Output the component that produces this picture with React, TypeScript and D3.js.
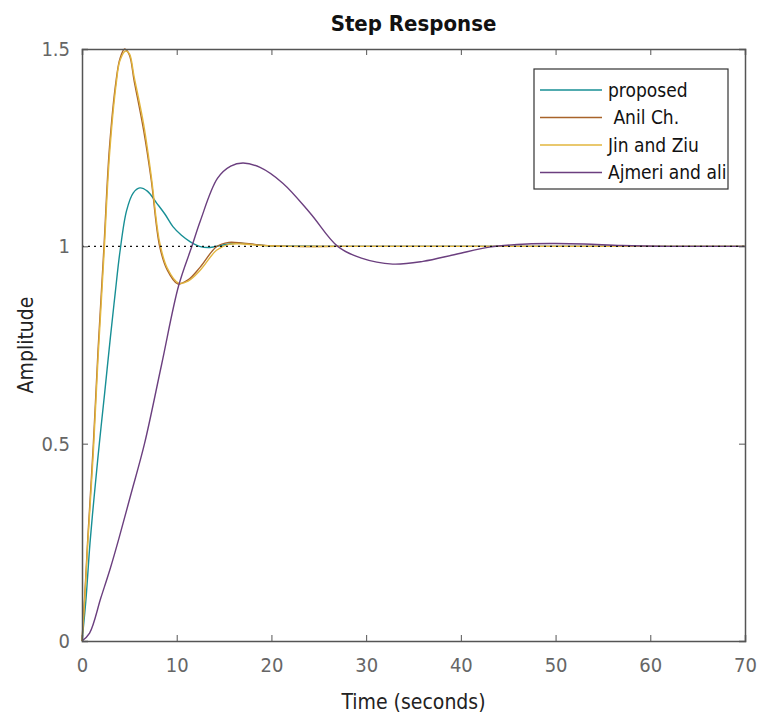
import React, { useEffect, useRef } from "react";
import * as d3 from "d3";

// step response samples
const proposedT = [0, 0.4, 0.85, 1.3, 1.83, 2.4, 3.0, 3.5, 4.0, 4.7, 5.4, 6.1, 6.9, 7.9, 8.8, 9.6, 10.5, 11.4, 12.4, 13.5, 15, 16.5, 18, 20, 25, 30, 40, 50, 60, 70];
const proposedV = [0, 0.1, 0.25, 0.37, 0.5, 0.63, 0.77, 0.88, 0.985, 1.09, 1.135, 1.148, 1.14, 1.109, 1.08, 1.05, 1.028, 1.012, 1.0, 0.997, 1.004, 1.008, 1.005, 1.001, 1.0, 1.0, 1.0, 1.0, 1.0, 1.0];

const anilT = [0, 0.3, 0.6, 1.2, 1.7, 2.3, 2.9, 3.6, 4.0, 4.5, 5.0, 5.5, 6.5, 7.3, 8.2, 9.0, 10.1, 11.2, 12.5, 14.2, 15.5, 17, 19, 22, 30, 40, 50, 60, 70];
const anilV = [0, 0.12, 0.255, 0.5, 0.74, 0.99, 1.25, 1.42, 1.475, 1.5, 1.485, 1.42, 1.295, 1.17, 1.0, 0.94, 0.905, 0.915, 0.948, 0.999, 1.01, 1.008, 1.003, 1.0, 1.0, 1.0, 1.0, 1.0, 1.0];

const jinT = [0, 0.3, 0.6, 1.2, 1.7, 2.3, 2.9, 3.6, 4.0, 4.6, 5.0, 5.5, 6.5, 7.3, 8.2, 9.0, 10.2, 11.2, 12.5, 14.2, 15.5, 17, 19, 22, 30, 40, 50, 60, 70];
const jinV = [0, 0.11, 0.245, 0.48, 0.72, 0.97, 1.23, 1.41, 1.47, 1.495, 1.488, 1.43, 1.31, 1.18, 1.01, 0.945, 0.907, 0.912, 0.94, 0.99, 1.005, 1.006, 1.002, 1.0, 1.0, 1.0, 1.0, 1.0, 1.0];

const ajmeriT = [0, 0.8, 2.0, 3.0, 3.9, 5.2, 6.6, 8.4, 10.2, 11.6, 12.5, 14.3, 15.7, 17.0, 18.8, 21.2, 24.1, 27.0, 29.5, 32.8, 36, 39.5, 43, 47, 50, 53, 57, 62, 70];
const ajmeriV = [0, 0.02, 0.11, 0.185, 0.26, 0.375, 0.5, 0.7, 0.9, 1.0, 1.065, 1.172, 1.203, 1.211, 1.2, 1.16, 1.084, 1.0, 0.97, 0.955, 0.962, 0.98, 0.998, 1.006, 1.007, 1.006, 1.002, 1.0, 1.0];

const seriesNames = ["proposed", " Anil Ch.", "Jin and Ziu", "Ajmeri and ali"];
const seriesColors = ["#178f95", "#a8632a", "#e2b63e", "#6b3f7f"];

const xTicks = [0, 10, 20, 30, 40, 50, 60, 70];
const yTicks = [0, 0.5, 1, 1.5];

const font = "'Liberation Sans Narrow', 'Arial Narrow', 'DejaVu Sans Condensed', sans-serif";

export default function App() {
	const svgRef = useRef<SVGSVGElement>(null);

	useEffect(() => {
		document.body.style.margin = "0";
		if (!svgRef.current) return;
		const svg = d3.select(svgRef.current);
		svg.selectAll("*").remove();

		const margin = { top: 49, right: 16, bottom: 78, left: 82 };
		const width = 761 - margin.left - margin.right;
		const height = 719 - margin.top - margin.bottom;

		const x = d3.scaleLinear().domain([0, 70]).range([0, width]);
		const y = d3.scaleLinear().domain([0, 1.5]).range([height, 0]);

		const graph = svg
			.append("g")
			.attr("transform", `translate(${margin.left},${margin.top})`);

		const series = [
			{ t: proposedT, v: proposedV },
			{ t: anilT, v: anilV },
			{ t: jinT, v: jinV },
			{ t: ajmeriT, v: ajmeriV },
		];

		const line = d3
			.line<[number, number]>()
			.x((d) => x(d[0]))
			.y((d) => y(d[1]))
			.curve(d3.curveCatmullRom.alpha(0.5));

		series.forEach((s, i) => {
			graph
				.append("path")
				.datum(s.t.map((t, j) => [t, s.v[j]] as [number, number]))
				.attr("fill", "none")
				.attr("stroke", seriesColors[i])
				.attr("stroke-width", 1.4)
				.attr("d", line);
		});

		// steady state line
		graph
			.append("line")
			.attr("x1", 0)
			.attr("x2", width)
			.attr("y1", y(1))
			.attr("y2", y(1))
			.attr("stroke", "#111")
			.attr("stroke-width", 1.3)
			.attr("stroke-dasharray", "2,4");

		// axes, ticks pointing inward on all sides
		const tickLen = 6;
		const bottomAxis = d3.axisBottom(x).tickValues(xTicks).tickSize(-tickLen).tickPadding(14).tickFormat(d3.format("d"));
		const topAxis = d3.axisTop(x).tickValues(xTicks).tickSize(-tickLen).tickFormat(() => "");
		const leftAxis = d3.axisLeft(y).tickValues(yTicks).tickSize(-tickLen).tickPadding(12).tickFormat((d) => `${d}`);
		const rightAxis = d3.axisRight(y).tickValues(yTicks).tickSize(-tickLen).tickFormat(() => "");

		const gb = graph.append("g").attr("transform", `translate(0,${height})`).call(bottomAxis);
		const gt = graph.append("g").call(topAxis);
		const gl = graph.append("g").call(leftAxis);
		const gr = graph.append("g").attr("transform", `translate(${width},0)`).call(rightAxis);

		[gb, gt, gl, gr].forEach((g) => {
			g.select(".domain").attr("stroke", "#555").attr("stroke-width", 1.5);
			g.selectAll(".tick line").attr("stroke", "#555");
			g.selectAll(".tick text")
				.attr("fill", "#666")
				.style("font-family", font)
				.style("font-size", "20px");
		});
		gb.selectAll(".tick text").attr("dy", "0.85em");

		// legend
		const lg = svg.append("g").attr("transform", "translate(534,69)");
		lg.append("rect")
			.attr("width", 194)
			.attr("height", 120)
			.attr("fill", "white")
			.attr("stroke", "#333")
			.attr("stroke-width", 1.2);
		seriesNames.forEach((name, i) => {
			const cy = 21 + i * 27.5;
			lg.append("line")
				.attr("x1", 6)
				.attr("x2", 68)
				.attr("y1", cy)
				.attr("y2", cy)
				.attr("stroke", seriesColors[i])
				.attr("stroke-width", 1.5);
			lg.append("text")
				.attr("x", 74)
				.attr("y", cy)
				.attr("dy", "0.35em")
				.attr("fill", "#111")
				.style("font-family", font)
				.style("font-size", "19px")
				.style("white-space", "pre")
				.text(name);
		});

		// labels
		svg.append("text")
			.attr("x", margin.left + width / 2)
			.attr("y", 31)
			.attr("text-anchor", "middle")
			.attr("fill", "#111")
			.style("font-family", font)
			.style("font-weight", "bold")
			.style("font-size", "22px")
			.text("Step Response");

		svg.append("text")
			.attr("x", margin.left + width / 2)
			.attr("y", 709)
			.attr("text-anchor", "middle")
			.attr("fill", "#222")
			.style("font-family", font)
			.style("font-size", "21px")
			.text("Time (seconds)");

		svg.append("text")
			.attr("transform", `translate(33,${margin.top + height / 2}) rotate(-90)`)
			.attr("text-anchor", "middle")
			.attr("fill", "#222")
			.style("font-family", font)
			.style("font-size", "21px")
			.text("Amplitude");
	}, []);

	return (
		<div>
			<svg ref={svgRef} width={761} height={719} style={{ display: "block", background: "white" }}></svg>
		</div>
	);
}
